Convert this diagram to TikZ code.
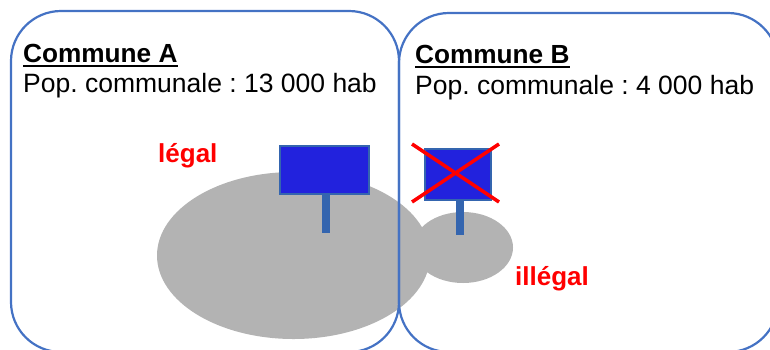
\documentclass[tikz,border=0pt]{standalone}
\usepackage{fontspec}
\setmainfont{Liberation Sans}
\frenchspacing
\definecolor{boxblue}{RGB}{68,114,196}
\definecolor{signfill}{RGB}{34,34,221}
\definecolor{signedge}{RGB}{52,101,175}
\definecolor{blobgray}{RGB}{179,179,179}
\definecolor{lblred}{RGB}{255,0,0}
\tikzset{
  commune/.style={draw=boxblue, line width=2.2pt, rounded corners=50pt},
  blob/.style={fill=blobgray, draw=none},
  panel/.style={fill=signfill, draw=signedge, line width=2.2pt},
  post/.style={fill=signedge, draw=none},
  txt/.style={anchor=base west, inner sep=0pt, font=\fontsize{26.5}{30}\selectfont\frenchspacing},
  ttl/.style={txt, font=\fontsize{26.2}{30}\selectfont\bfseries},
  lbl/.style={txt, text=lblred, font=\fontsize{26}{30}\selectfont\bfseries},
  uline/.style={line width=2pt, black},
  cross/.style={draw=lblred, line width=3.5pt}
}
\begin{document}
\begin{tikzpicture}[x=1pt, y=-1pt]
\useasboundingbox (0,0) rectangle (770,349);
\begin{scope}
\clip (0,0) rectangle (770,349);
% grey areas
\fill[blob] (293.5,255.5) ellipse [x radius=136.5, y radius=83.5];
\fill[blob] (463,247.5) ellipse [x radius=50, y radius=35.5];
% communes
\draw[commune] (11,11) rectangle (399,352);
\draw[commune] (399,13) rectangle (778,352);
\end{scope}
% sign A (legal)
\fill[post] (322,192) rectangle (330,233);
\draw[panel] (280,146) rectangle (369,194);
% sign B (illegal)
\fill[post] (456,198) rectangle (464,235);
\draw[panel] (425,149) rectangle (491,200);
\coordinate (x1) at (412,144);
\coordinate (x2) at (499,202);
\coordinate (x3) at (412,202);
\coordinate (x4) at (499,144);
\draw[cross] (x1) -- (x2);
\draw[cross] (x3) -- (x4);
% texts
\node[ttl] (ca) at (23,62) {Commune A};
\draw[uline] ([yshift=-4pt]ca.base west) -- ([yshift=-4pt]ca.base east);
\node[txt] (pa) at (23,92) {Pop. communale : 13 000 hab};
\node[ttl] (cb) at (415,63) {Commune B};
\draw[uline] ([yshift=-4pt]cb.base west) -- ([yshift=-4pt]cb.base east);
\node[txt] (pb) at (415,94) {Pop. communale : 4 000 hab};
\node[lbl] (lg) at (158,162) {légal};
\node[lbl] (il) at (515,285) {illégal};
\end{tikzpicture}
\end{document}
